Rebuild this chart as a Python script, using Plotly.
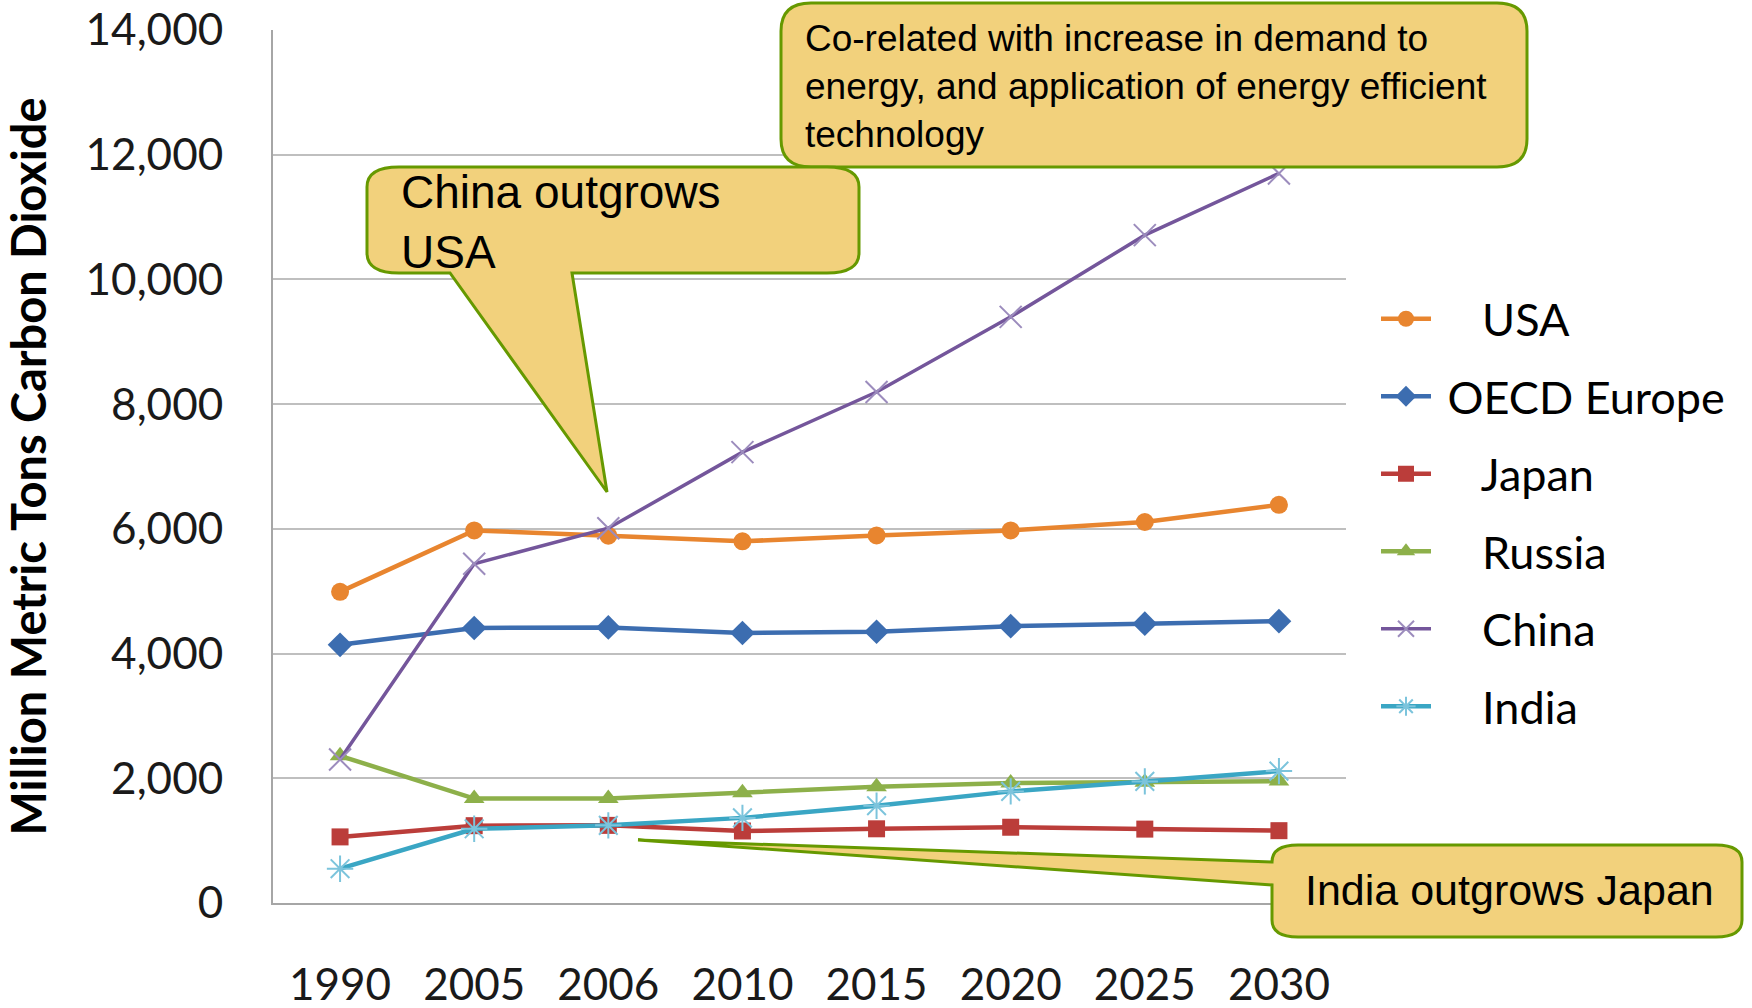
import plotly.graph_objects as go

# ---------------- data ----------------
years = ["1990", "2005", "2006", "2010", "2015", "2020", "2025", "2030"]
series_names = ["USA", "OECD Europe", "Japan", "Russia", "China", "India"]
usa = [4990, 5975, 5890, 5800, 5895, 5975, 6110, 6385]
oecd_europe = [4140, 4410, 4420, 4330, 4350, 4440, 4480, 4520]
japan = [1060, 1240, 1245, 1155, 1190, 1215, 1185, 1160]
russia = [2360, 1675, 1675, 1770, 1865, 1925, 1935, 1955]
china = [2300, 5440, 6010, 7230, 8195, 9400, 10710, 11700]
india = [550, 1190, 1245, 1365, 1560, 1790, 1950, 2115]
y_ticks = [0, 2000, 4000, 6000, 8000, 10000, 12000, 14000]

W_FIG, H_FIG = 1752, 1008
L, R, T, B = 273, 1346, 30, 903   # plot area in pixels
PW, PH = R - L, B - T

colors = ["#E8852F", "#3C6DB0", "#BB3D3A", "#8DB04A", "#74569B", "#3AA6C4"]
symbols = ["circle", "diamond", "square", "triangle-up", "x-thin", "asterisk"]
msizes = [18, 19, 17, 18, 22, 22]
widths = [4.5, 4.5, 4.5, 4.5, 3.5, 4.5]
mline_colors = [None, None, None, None, "#9C8CBD", "#7CC4DC"]
lead = ["\u00a0" * 4, "\u00a0" * 1, "\u00a0" * 4, "\u00a0" * 4, "\u00a0" * 4, "\u00a0" * 4]
values = [usa, oecd_europe, japan, russia, china, india]

fig = go.Figure()
for i, (name, vals) in enumerate(zip(series_names, values)):
    marker = dict(symbol=symbols[i], size=msizes[i], color=colors[i])
    if mline_colors[i]:
        marker["line"] = dict(color=mline_colors[i], width=2)
    fig.add_trace(go.Scatter(
        x=years, y=vals, name=lead[i] + name, mode="lines+markers",
        line=dict(color=colors[i], width=widths[i]),
        marker=marker, legendgroup=name,
    ))

def P(x, y):
    return "%.5f,%.5f" % ((x - L) / PW, (B - y) / PH)

def px(x):
    return (x - L) / PW

def py(y):
    return (B - y) / PH

FILL = "#F2D17C"
EDGE = "#669900"

def box_path(x0, y0, x1, y1, rx, ry, bottom_notch=None, left_notch=None):
    s = "M" + P(x0 + rx, y0)
    s += " L" + P(x1 - rx, y0)
    s += " Q" + P(x1, y0) + " " + P(x1, y0 + ry)
    s += " L" + P(x1, y1 - ry)
    s += " Q" + P(x1, y1) + " " + P(x1 - rx, y1)
    if bottom_notch:
        (ax, bx, tx, ty) = bottom_notch
        s += " L" + P(bx, y1) + " L" + P(tx, ty) + " L" + P(ax, y1)
    s += " L" + P(x0 + rx, y1)
    s += " Q" + P(x0, y1) + " " + P(x0, y1 - ry)
    if left_notch:
        (ay, by, tx, ty) = left_notch
        s += " L" + P(x0, by) + " L" + P(tx, ty) + " L" + P(x0, ay)
    s += " L" + P(x0, y0 + ry)
    s += " Q" + P(x0, y0) + " " + P(x0 + rx, y0)
    s += " Z"
    return s

shapes = [
    dict(type="path", xref="paper", yref="paper", layer="above",
         path=box_path(781, 3, 1527, 167, 30, 28),
         fillcolor=FILL, line=dict(color=EDGE, width=3)),
    dict(type="path", xref="paper", yref="paper", layer="above",
         path=box_path(367, 167, 859, 273, 32, 20, bottom_notch=(450, 572, 607, 492)),
         fillcolor=FILL, line=dict(color=EDGE, width=3)),
    dict(type="path", xref="paper", yref="paper", layer="above",
         path=box_path(1272, 845, 1742, 937, 26, 17, left_notch=(862, 885, 638, 840)),
         fillcolor=FILL, line=dict(color=EDGE, width=3)),
]

ann_font = "Liberation Sans, Arial, sans-serif"
annotations = [
    dict(xref="paper", yref="paper", x=px(803), y=py(86), xanchor="left", yanchor="middle",
         align="left", showarrow=False,
         text="Co-related with increase in demand to<br>energy, and application of energy efficient<br>technology",
         font=dict(family=ann_font, size=37, color="black")),
    dict(xref="paper", yref="paper", x=px(399), y=py(222), xanchor="left", yanchor="middle",
         align="left", showarrow=False,
         text="China outgrows<br>USA",
         font=dict(family=ann_font, size=46, color="black")),
    dict(xref="paper", yref="paper", x=px(1303), y=py(890), xanchor="left", yanchor="middle",
         align="left", showarrow=False,
         text="India outgrows Japan",
         font=dict(family=ann_font, size=43, color="black")),
]

tick_font = dict(family="Lato, Noto Sans, sans-serif", size=44, color="#1a1a1a")

fig.update_layout(
    width=W_FIG, height=H_FIG,
    margin=dict(l=L, r=W_FIG - R, t=T, b=H_FIG - B, pad=0),
    paper_bgcolor="white", plot_bgcolor="white",
    showlegend=True,
    legend=dict(x=px(1376), y=py(283), xanchor="left", yanchor="top",
                font=dict(family="Lato, Noto Sans, sans-serif", size=45, color="black"),
                tracegroupgap=16, itemwidth=50, bgcolor="rgba(0,0,0,0)"),
    xaxis=dict(type="category", range=[-0.5, 7.5], showgrid=False,
               showline=True, linecolor="#A6A6A6", linewidth=2,
               ticks="", tickfont=tick_font, ticklabelstandoff=42,
               automargin=False, fixedrange=True),
    yaxis=dict(range=[0, 14000], tickvals=y_ticks, tickformat=",d",
               showgrid=True, gridcolor="#BFBFBF", gridwidth=2,
               showline=True, linecolor="#A6A6A6", linewidth=2,
               zeroline=False, ticks="", tickfont=tick_font, ticklabelstandoff=39,
               title=dict(text="<b>Million Metric Tons Carbon Dioxide</b>",
                          font=dict(family="Lato, Noto Sans, sans-serif", size=47, color="black"),
                          standoff=26),
               automargin=False, fixedrange=True),
    shapes=shapes,
    annotations=annotations,
)

fig.write_html("out.html")
